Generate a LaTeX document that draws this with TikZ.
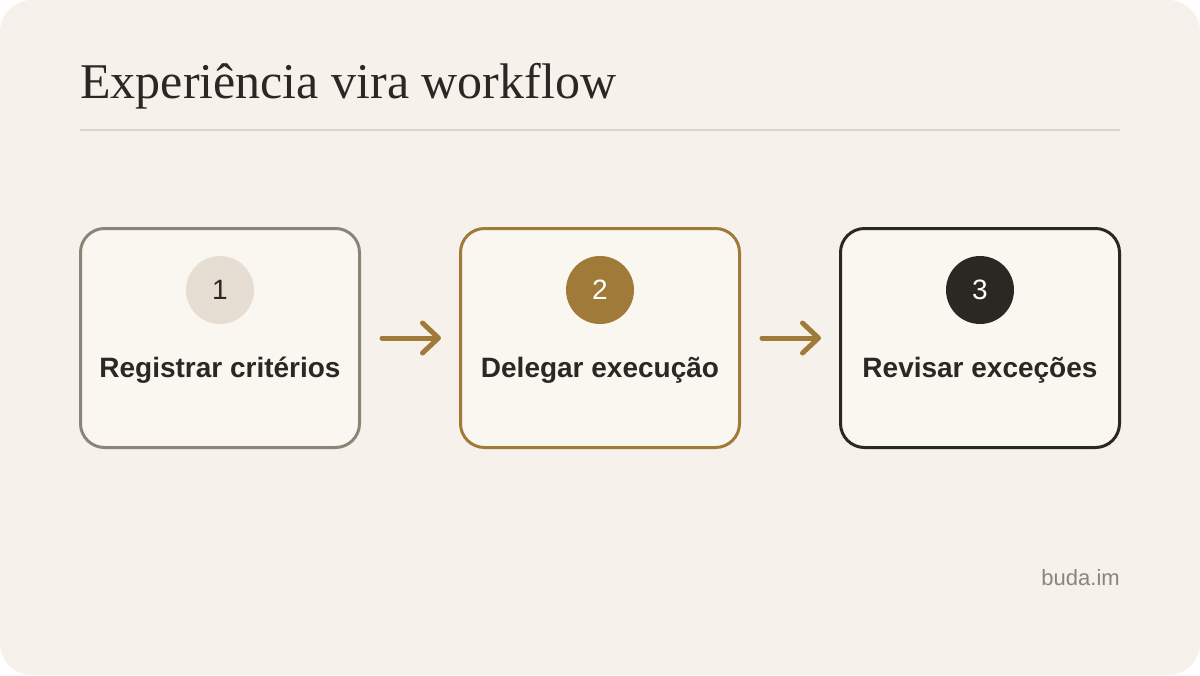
\documentclass[tikz,border=0pt]{standalone}
\usepackage{fontspec}
\setmainfont{Liberation Serif}
\setsansfont{Liberation Sans}
\usetikzlibrary{arrows.meta}

\definecolor{paper}{HTML}{F6F2EB}
\definecolor{cardfill}{HTML}{FAF7F1}
\definecolor{rulegray}{HTML}{DDD6C8}
\definecolor{ink}{HTML}{2B2823}
\definecolor{gold}{HTML}{A07A38}
\definecolor{stone}{HTML}{8C8577}
\definecolor{sand}{HTML}{E6DED2}

\begin{document}
\begin{tikzpicture}[x=0.75pt,y=-0.75pt,
  stepbox/.style={draw,line width=2.25pt,rounded corners=18pt,fill=cardfill,
    minimum width=209.25pt,minimum height=164.25pt},
  badge/.style={circle,minimum size=51pt,inner sep=0pt,
    font=\sffamily\fontsize{21}{25}\selectfont},
  steptext/.style={anchor=base,text=ink,font=\sffamily\bfseries\fontsize{21}{25}\selectfont},
  flow/.style={draw=gold,line width=3.75pt,line cap=round,
    -{Straight Barb[length=12pt,width=22.5pt,round]},shorten <=15.75pt,shorten >=13.5pt}]
  \useasboundingbox (0,0) rectangle (1200,675);
  \fill[white] (0,0) rectangle (1200,675);
  \fill[paper,rounded corners=24pt] (0,0) rectangle (1200,675);

  %% Title
  \node[anchor=base west,inner sep=0pt,text=ink,font=\fontsize{37.5}{45}\selectfont]
    (title) at (80,98) {Experiência vira workflow};
  \draw[rulegray,line width=1.5pt] (80,130) -- (1120,130);

  %% Steps
  \node[stepbox,draw=stone] (reg) at (220,338) {};
  \node[stepbox,draw=gold] (del) at (600,338) {};
  \node[stepbox,draw=ink] (rev) at (980,338) {};

  \node[badge,fill=sand,text=ink] (n1) at (220,290) {1};
  \node[badge,fill=gold,text=white] (n2) at (600,290) {2};
  \node[badge,fill=ink,text=white] (n3) at (980,290) {3};

  \node[steptext] (t1) at (220,377) {Registrar critérios};
  \node[steptext] (t2) at (600,377) {Delegar execução};
  \node[steptext] (t3) at (980,377) {Revisar exceções};

  %% Arrows
  \draw[flow] (reg) -- (del);
  \draw[flow] (del) -- (rev);

  \node[anchor=base east,inner sep=0pt,text=stone,font=\sffamily\fontsize{16.5}{20}\selectfont]
    (site) at (1120,585) {buda.im};
\end{tikzpicture}
\end{document}
